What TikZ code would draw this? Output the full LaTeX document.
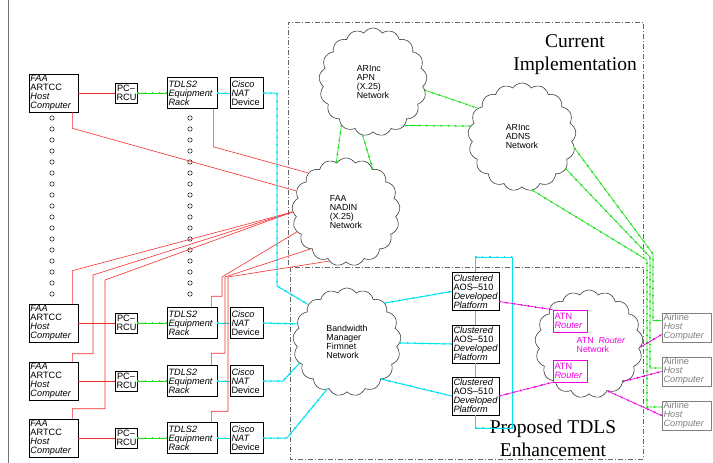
\documentclass[tikz,border=0pt]{standalone}
\usepackage{fontspec}
\setmainfont{Liberation Serif}
\newfontfamily\boxfont{Liberation Sans}
\usetikzlibrary{shapes.symbols}
\definecolor{linkred}{RGB}{245,45,45}
\definecolor{linkgreen}{RGB}{30,225,30}
\definecolor{linkcyan}{RGB}{0,228,240}
\definecolor{linkmag}{RGB}{240,0,225}
\tikzset{
  boxnode/.style={draw, fill=white, line width=.6pt, inner sep=1.5pt, align=left,
    font=\boxfont\itshape\fontsize{9.2}{8.9}\selectfont},
  hostbox/.style={boxnode, text width=46pt, minimum height=37pt},
  rcubox/.style={boxnode, text width=19pt, minimum height=20pt, align=center,
    font=\boxfont\fontsize{9.2}{8.9}\selectfont},
  rackbox/.style={boxnode, text width=47pt, minimum height=31pt},
  natbox/.style={boxnode, text width=30pt, minimum height=31pt},
  platbox/.style={boxnode, text width=44pt, minimum height=38pt},
  routerbox/.style={boxnode, draw=linkmag, text=linkmag, text width=31pt, minimum height=22pt},
  airbox/.style={boxnode, draw=gray, text=gray, text width=46pt, minimum height=29pt},
  net/.style={cloud, cloud puffs=17, cloud puff arc=115, aspect=1, draw=black!75,
    fill=white, line width=.6pt, minimum width=108pt, minimum height=108pt,
    inner sep=0pt, align=left, font=\boxfont\fontsize{8.8}{9}\selectfont},
  dotlink/.style={postaction={draw, line width=1.8pt, dash pattern=on 1.2pt off 6pt}},
  redlink/.style={linkred, line width=.6pt},
  greenlink/.style={linkgreen, line width=.7pt, dotlink},
  cyanlink/.style={linkcyan, line width=1pt, dotlink},
  maglink/.style={linkmag, line width=.7pt, dotlink},
  frame/.style={draw=black!60, line width=.8pt, dash pattern=on 5pt off 2pt on 1pt off 2pt},
  title/.style={font=\fontsize{19.5}{23}\selectfont, align=center}
}
\begin{document}
\begin{tikzpicture}[x=1pt,y=-1pt]
\useasboundingbox (0,0) rectangle (713,463);
\draw[black!55, line width=1pt] (8,0) -- (8,463);

% dash-dot areas
\draw[frame] (288,265) -- (288,22) -- (643,22) -- (643,255);
\draw[frame] (290,267) rectangle (643,459);
\node[title] (current) at (575,55) {Current\\Implementation};
\node[title] (proposed) at (553,438) {Proposed TDLS\\Enhancement};

% columns of dots
\foreach \k in {0,...,16} {
  \draw[line width=.5pt] (52,118+11*\k) circle (2.2pt);
  \draw[line width=.5pt] (190,118+11*\k) circle (2.2pt);
}

% networks
\node[net] (apn) at (373,82) {ARInc\\APN\\(X.25)\\Network};
\node[net] (adns) at (522,137) {ARInc\\ADNS\\Network};
\node[net] (nadin) at (346,212) {FAA\\NADIN\\(X.25)\\Network};
\node[net] (bw) at (347,342) {Bandwidth\\Manager\\Firmnet\\Network};
\node[net] (atnnet) at (589,344) {};
\node[text=linkmag, align=left, font=\boxfont\fontsize{8.8}{9}\selectfont]
  (atnlabel) at (601,345) {ATN\ \ \textit{Router}\\Network};

% FAA rows
\foreach \i/\y in {1/93,2/323,3/381,4/438} {
  \node[hostbox] (faa\i) at (53.5,\y) {FAA\\{\upshape ARTCC}\\Host\\Computer};
  \node[rcubox] (pc\i) at (126,\y) {PC–\\RCU};
  \node[rackbox] (tdls\i) at (192,\y) {TDLS2\\Equipment\\Rack};
  \node[natbox] (nat\i) at (246.5,\y) {Cisco\\NAT\\{\upshape Device}};
  \draw[redlink] (faa\i) -- (pc\i);
  \draw[greenlink] (pc\i) -- (tdls\i);
  \draw[cyanlink] (tdls\i) -- (nat\i);
}

% clustered platforms, routers, airline hosts
\foreach \i/\y in {1/291.5,2/344,3/396}
  \node[platbox] (clus\i) at (475.5,\y) {Clustered\\{\upshape AOS–510}\\Developed\\Platform};
\node[routerbox] (atn1) at (570,321) {{\upshape ATN}\\Router};
\node[routerbox] (atn2) at (570,371) {{\upshape ATN}\\Router};
\foreach \i/\y in {1/327.5,2/371.5,3/415.5}
  \node[airbox] (air\i) at (686.5,\y) {{\upshape Airline}\\Host\\Computer};

% red links to NADIN
\draw[redlink] ([xshift=-6pt]faa1.south east) -- ++(0,16) -- (nadin.157);
\draw[redlink] ([xshift=-4pt]tdls1.south east) -- ++(0,38) -- (nadin.134);
\draw[redlink] ([xshift=-6pt]faa2.north east) -- ++(0,-33) -- (nadin.180);
\draw[redlink] ([xshift=-6pt]faa3.north east) -- ++(0,-8) -| (93,275) -- (nadin.180);
\draw[redlink] ([xshift=-6pt]faa4.north east) -- ++(0,-10) -| (105,280) -- (nadin.180);
\draw[redlink] ([xshift=-6pt]tdls2.north east) -- ++(0,-11) -| (222,277) -- (nadin.-158);
\draw[redlink] ([xshift=-6pt]tdls3.north east) -- ++(0,-12) -| (225,277) -- (nadin.-134);
\draw[redlink] ([xshift=-6pt]tdls4.north east) -- ++(0,-11) -| (228,277) -- (nadin.-109);

% green links
\draw[greenlink] (apn.-9) -- (adns.147);
\draw[greenlink] (apn.-54) -- (adns.168);
\draw[greenlink] (apn.-126) -- (nadin.101);
\draw[greenlink] (apn.-101) -- (nadin.58);
\draw[greenlink] (adns.-12) -- (653,254) |- ([yshift=7pt]air1.west);
\draw[greenlink] (adns.-36) -- (650,257) |- ([yshift=3.5pt]air2.west);
\draw[greenlink] (adns.-79) -- (647,260) |- ([yshift=8.5pt]air3.west);

% cyan links
\draw[cyanlink] (nat1.east) -- (277,93) -- (277,286) -- (bw.136);
\draw[cyanlink] (nat2.east) -- (bw.160);
\draw[cyanlink] (nat3.east) -- (283,381) -- (bw.-156);
\draw[cyanlink] (nat4.east) -- (287,438) -- (bw.-113);
\draw[cyanlink] (bw.46) -- (clus1.west);
\draw[cyanlink] (bw.-1) -- (clus2.west);
\draw[cyanlink] (bw.-47) -- (clus3.west);
\draw[cyanlink] (clus1.south) -- (clus2.north);
\draw[cyanlink] (clus2.south) -- (clus3.north);
\draw[cyanlink] (clus1.north) -- ++(0,-15) -- ++(37,0) -- ++(0,171) -- ++(-37,0) -- (clus3.south);

% magenta links
\draw[maglink] ([yshift=-10pt]clus1.east) -- (atn1.north west);
\draw[maglink] (clus3.east) -- (atn2.south west);
\draw[maglink] (atnnet.-3) -- ([yshift=-7pt]air1.west);
\draw[maglink] (atnnet.-48) -- (air2.west);
\draw[maglink] (atnnet.-68) -- (air3.west);
\end{tikzpicture}
\end{document}
